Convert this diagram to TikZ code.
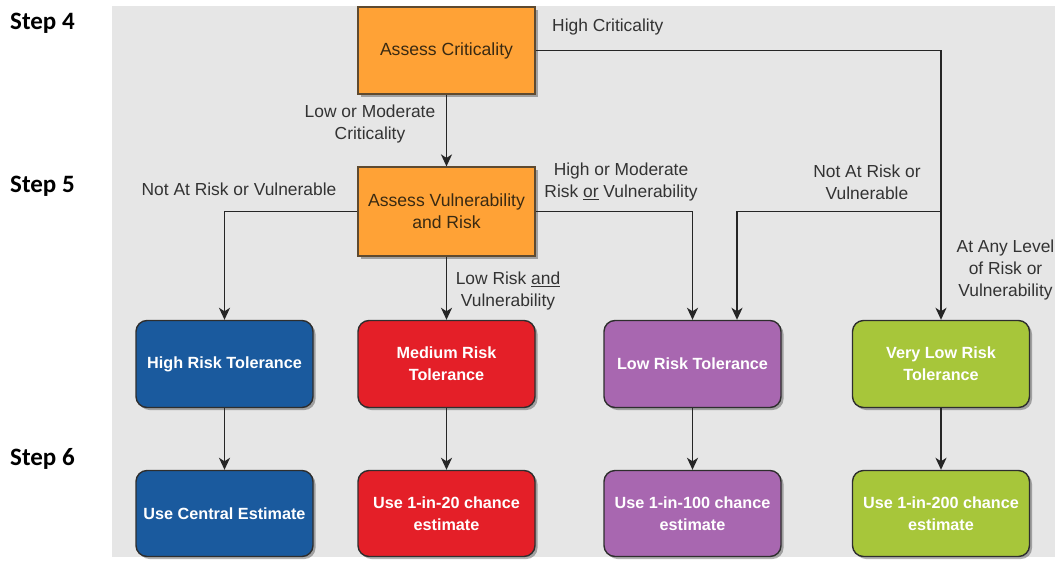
\documentclass[tikz,border=0pt]{standalone}
\usepackage{fontspec}
\setmainfont{Liberation Sans}
\newfontfamily\stepfont{Carlito}
\usetikzlibrary{arrows.meta,shadows}
\definecolor{bggray}{HTML}{E6E6E6}
\definecolor{orangefill}{HTML}{FFA236}
\definecolor{orangeline}{HTML}{5E4A30}
\definecolor{orangetext}{HTML}{3A2A12}
\definecolor{bluefill}{HTML}{1A5A9E}
\definecolor{redfill}{HTML}{E41F28}
\definecolor{purplefill}{HTML}{A867B0}
\definecolor{greenfill}{HTML}{A7C63A}
\definecolor{boxline}{HTML}{2E2E2E}
\definecolor{linecol}{HTML}{262626}
\definecolor{labelcol}{HTML}{333333}
\tikzset{
  shad/.style={drop shadow={shadow xshift=2.5pt,shadow yshift=-2.5pt,opacity=0.3,fill=black}},
  assessbox/.style={shad,draw=orangeline,line width=1.2pt,fill=orangefill,minimum width=177pt,minimum height=88pt,
    text=orangetext,font=\fontsize{17.6}{22}\selectfont,align=center,inner sep=0pt},
  tolbox/.style={shad,draw=boxline,line width=1.4pt,rounded corners=11pt,minimum width=177pt,minimum height=87pt,
    text=white,font=\bfseries\fontsize{16.2}{22}\selectfont,align=center,inner sep=0pt},
  lbl/.style={text=labelcol,font=\fontsize{17.4}{22}\selectfont,align=center,inner sep=0pt},
  steplbl/.style={font=\stepfont\bfseries\fontsize{25}{30}\selectfont,anchor=west,inner sep=0pt},
  conn/.style={draw=linecol,line width=1.7pt},
  arr/.style={conn,-{Stealth[length=12pt,width=11pt,inset=3.5pt]}}
}
\begin{document}
\begin{tikzpicture}[x=1pt,y=-1pt]
\useasboundingbox (0,0) rectangle (1055,560);
\fill[bggray] (112,6) rectangle (1055,557);

% step labels
\node[steplbl] (s4) at (10,23) {Step 4};
\node[steplbl] (s5) at (10,186) {Step 5};
\node[steplbl] (s6) at (10,459) {Step 6};

% assess boxes
\node[assessbox,minimum height=87pt] (crit) at (446.5,50.5) {Assess Criticality};
\node[assessbox,minimum height=89pt] (vuln) at (446.5,211.5) {Assess Vulnerability\\and Risk};

% tolerance boxes
\node[tolbox,fill=bluefill] (high) at (224.5,364) {High Risk Tolerance};
\node[tolbox,fill=redfill] (med) at (446.5,364) {Medium Risk\\Tolerance};
\node[tolbox,fill=purplefill] (low) at (692.5,364) {Low Risk Tolerance};
\node[tolbox,fill=greenfill] (vlow) at (941,364) {Very Low Risk\\Tolerance};

% estimate boxes
\node[tolbox,fill=bluefill,minimum height=86pt] (hce) at (224.5,513.5) {Use Central Estimate};
\node[tolbox,fill=redfill,minimum height=86pt] (m20) at (446.5,513.5) {Use 1-in-20 chance\\estimate};
\node[tolbox,fill=purplefill,minimum height=86pt] (l100) at (692.5,513.5) {Use 1-in-100 chance\\estimate};
\node[tolbox,fill=greenfill,minimum height=86pt] (v200) at (941,513.5) {Use 1-in-200 chance\\estimate};

% connectors
\coordinate (jn) at (vlow.north |- vuln.east);
\coordinate (low2) at ([xshift=44.5pt]low.north);
\draw[arr] (crit.south) -- (vuln.north);
\draw[arr] (crit.east) -| (vlow.north);
\draw[arr] (jn) -| (low2);
\draw[arr] (vuln.east) -| (low.north);
\draw[arr] (vuln.west) -| (high.north);
\draw[arr] (vuln.south) -- (med.north);
\draw[arr] (high.south) -- (hce.north);
\draw[arr] (med.south) -- (m20.north);
\draw[arr] (low.south) -- (l100.north);
\draw[arr] (vlow.south) -- (v200.north);

% labels
\node[lbl,anchor=west] (lhc) at (552,27) {High Criticality};
\node[lbl] (llm) at (370,123.5) {Low or Moderate\\Criticality};
\node[lbl] (lnl) at (239,189) {Not At Risk or Vulnerable};
\node[lbl] (lhm) at (621,182) {High or Moderate\\Risk \underline{or} Vulnerability};
\node[lbl] (lnr) at (867,182) {Not At Risk or\\Vulnerable};
\node[lbl] (llr) at (508,291) {Low Risk \underline{and}\\Vulnerability};
\node[lbl] (lany) at (1005.5,270) {At Any Level\\of Risk or\\Vulnerability};
\end{tikzpicture}
\end{document}
